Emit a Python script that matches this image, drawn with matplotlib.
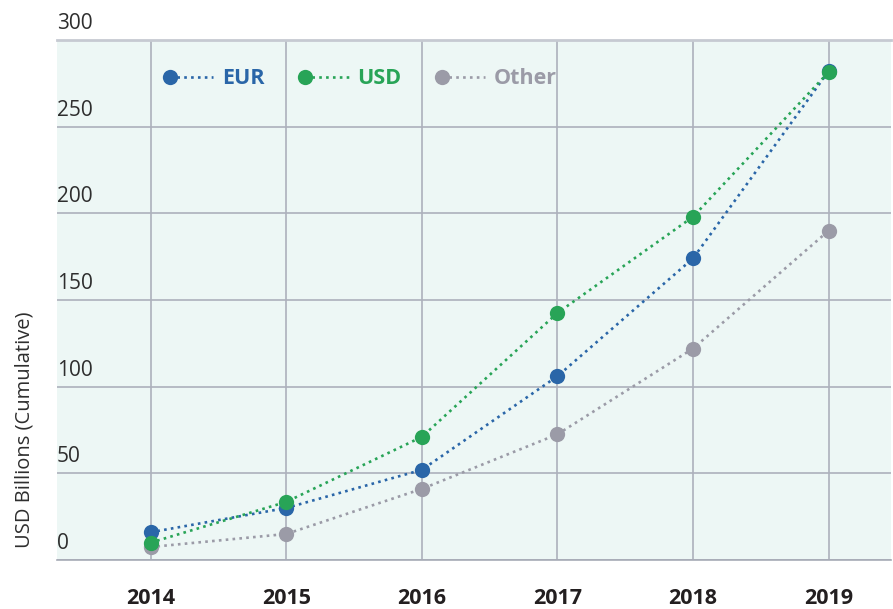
import matplotlib
matplotlib.use("Agg")
import matplotlib.pyplot as plt
from matplotlib.legend_handler import HandlerLine2D
from matplotlib import transforms

# data (USD billions, cumulative)
years = [2014, 2015, 2016, 2017, 2018, 2019]
eur = [16, 30, 52, 106, 174, 282]
usd = [10, 33.5, 71, 142.5, 198, 281.5]
other = [7.5, 15, 41, 72.5, 122, 190]
yticks = [0, 50, 100, 150, 200, 250, 300]

series = [
    ("Other", other, "#9b9ba7"),
    ("EUR", eur, "#2a66a8"),
    ("USD", usd, "#28a457"),
]
legend_order = ["EUR", "USD", "Other"]

plt.rcParams["font.family"] = ["Open Sans", "DejaVu Sans"]

fig = plt.figure(figsize=(8.93, 6.09), dpi=100)
ax = fig.add_axes([57 / 893, 1 - 560 / 609, 834 / 893, 520 / 609])
ax.set_facecolor("#edf7f5")

handles = {}
for name, vals, col in series:
    ln, = ax.plot(years, vals, color=col, linestyle=(0, (1, 1.6)), lw=1.9,
                  marker="o", markersize=11, markeredgewidth=0, label=name)
    handles[name] = ln

ax.set_xlim(2013.31, 2019.46)
ax.set_ylim(0, 300)
ax.set_xticks(years)
ax.set_xticklabels([str(y) for y in years], fontsize=15.5, fontweight="bold",
                   color="#231f20")
ax.tick_params(axis="x", length=0, pad=20)
ax.set_yticks(yticks)
ax.tick_params(axis="y", length=0, labelleft=False)
ax.grid(True, color="#adb1bc", lw=1.2)
ax.set_axisbelow(True)

for s in ["left", "right"]:
    ax.spines[s].set_visible(False)
ax.spines["bottom"].set_color("#a7abb6")
ax.spines["bottom"].set_linewidth(1.2)
ax.spines["top"].set_color("#c6cad2")
ax.spines["top"].set_linewidth(2)

# y tick labels sit above their gridlines
trans = transforms.blended_transform_factory(ax.transAxes, ax.transData)
off = transforms.offset_copy(trans, fig=fig, x=0, y=6, units="dots")
for t in yticks:
    ax.text(0.0, t, str(t), transform=off, ha="left", va="bottom",
            fontsize=15, color="#2e2e2e")

fig.text(25 / 893, 1 - 430 / 609, "USD Billions (Cumulative)", rotation=90,
         ha="center", va="center", fontsize=14.5, color="#2e2e2e")


def _left_marker(legend_handle, orig):
    legend_handle.update_from(orig)
    legend_handle.set_markevery([0])


leg = ax.legend([handles[n] for n in legend_order], legend_order,
                loc="center left", bbox_to_anchor=(0.136, 0.925), ncol=3,
                frameon=False, handlelength=2.0, handletextpad=0.4,
                columnspacing=1.9, borderaxespad=0, borderpad=0,
                prop={"size": 15.5, "weight": "bold"},
                handler_map={matplotlib.lines.Line2D: HandlerLine2D(update_func=_left_marker)})
colors = {s[0]: s[2] for s in series}
for txt, n in zip(leg.get_texts(), legend_order):
    txt.set_color(colors[n])

fig.savefig("out.png", dpi=100)
